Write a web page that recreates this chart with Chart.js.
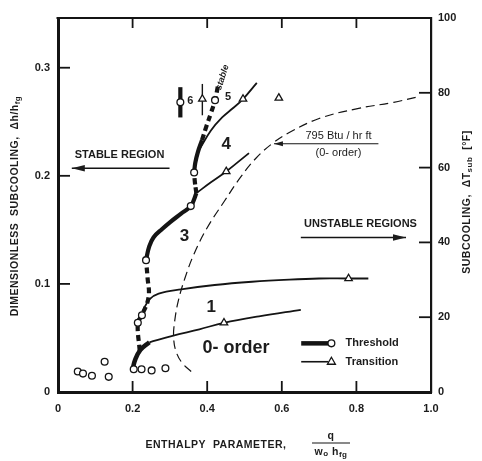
<!DOCTYPE html>
<html><head><meta charset="utf-8">
<script src="https://cdn.jsdelivr.net/npm/chart.js@4/dist/chart.umd.min.js"></script>
<style>html,body{margin:0;padding:0;background:#fff;}</style>
</head><body>
<canvas id="c" width="482" height="461"></canvas>
<script>
// ---------- tick values / labels ----------
const xTickValues = [0, 0.2, 0.4, 0.6, 0.8, 1.0];
const xTickLabels = ['0', '0.2', '0.4', '0.6', '0.8', '1.0'];
const yTickValues = [0, 0.1, 0.2, 0.3];
const yTickLabels = ['0', '0.1', '0.2', '0.3'];
const y2TickValues = [0, 20, 40, 60, 80, 100];
const y2TickLabels = ['0', '20', '40', '60', '80', '100'];

// ---------- data ----------
// threshold points (open circles)
const lowScatterCircles = [[0.053,0.019],[0.067,0.017],[0.091,0.015],[0.125,0.028],[0.136,0.014]];
const thresholdCircles = [[0.203,0.021],[0.224,0.021],[0.251,0.020],[0.288,0.022],
  [0.214,0.064],[0.225,0.071],[0.236,0.122],[0.356,0.172],[0.365,0.203],[0.421,0.270],[0.328,0.268]];
// transition points (open triangles)
const transitionTriangles = [[0.445,0.064],[0.779,0.105],[0.451,0.204],[0.496,0.271],[0.592,0.272],[0.387,0.271]];

// 0-order curve
const zeroOrderThreshold = [[0.200,0.021],[0.207,0.030],[0.221,0.039],[0.245,0.046]];
const zeroOrderTransition = [[0.245,0.046],[0.307,0.052],[0.379,0.058],[0.445,0.064],[0.539,0.070],[0.651,0.076]];
// curve 1 (transition)
const curve1Transition = [[0.225,0.071],[0.233,0.079],[0.246,0.086],[0.27,0.091],[0.33,0.095],[0.42,0.099],
  [0.52,0.102],[0.62,0.104],[0.70,0.105],[0.779,0.105],[0.832,0.105]];
// threshold line, dashed part low
const thresholdDashLow = [[0.219,0.038],[0.214,0.064],[0.225,0.071],[0.243,0.088],[0.240,0.106],[0.236,0.122]];
// curve 3 threshold solid
const curve3Threshold = [[0.236,0.122],[0.244,0.134],[0.256,0.143],[0.28,0.151],[0.30,0.157],[0.33,0.165],[0.356,0.172],[0.371,0.184]];
const thresholdDashMid = [[0.371,0.184],[0.367,0.194],[0.365,0.203]];
const curve4Threshold = [[0.365,0.203],[0.368,0.212],[0.375,0.222],[0.386,0.233]];
const thresholdDashHigh = [[0.386,0.233],[0.398,0.246],[0.410,0.258],[0.421,0.270],[0.426,0.278],[0.430,0.286]];
// transitions 3 and 4
const curve3Transition = [[0.371,0.184],[0.41,0.194],[0.451,0.204],[0.512,0.221]];
const curve4Transition = [[0.380,0.225],[0.41,0.242],[0.44,0.254],[0.467,0.262],[0.496,0.271],[0.533,0.286]];
// 795 Btu/hr ft (0-order) dashed curve
const curve795 = [[0.357,0.019],[0.335,0.026],[0.318,0.036],[0.310,0.050],[0.313,0.066],[0.323,0.085],
  [0.340,0.105],[0.365,0.128],[0.40,0.152],[0.445,0.176],[0.49,0.199],[0.53,0.216],[0.575,0.230],
  [0.62,0.240],[0.70,0.253],[0.80,0.262],[0.90,0.268],[0.965,0.273]];
// runs 6 and 5 (short vertical bars)
const run6Bar = [[0.328,0.254],[0.328,0.282]];
const run5Bar = [[0.387,0.256],[0.387,0.285]];

// ---------- helpers ----------
const INK = '#141414';
const FONT = '"Liberation Sans", Arial, sans-serif';
const pts = a => a.map(([x, y]) => ({x, y}));
function lineDs(data, w, dash) {
  return {data: pts(data), showLine: true, borderColor: INK, borderWidth: w, borderDash: dash || [],
    pointRadius: 0, pointHoverRadius: 0, tension: 0.4, fill: false, order: 2,
    borderCapStyle: 'butt', borderJoinStyle: 'round'};
}
function markerDs(data, style, r) {
  return {data: pts(data), showLine: false, pointStyle: style, pointRadius: r, pointHoverRadius: r,
    pointBackgroundColor: '#fff', pointBorderColor: INK, pointBorderWidth: 1.3, order: 0};
}

function drawRich(ctx, parts, cx, cy) {
  let total = 0;
  parts.forEach(p => { ctx.font = p.font; p.w = ctx.measureText(p.t).width; total += p.w; });
  let x = cx - total / 2;
  ctx.textAlign = 'left'; ctx.textBaseline = 'middle';
  parts.forEach(p => { ctx.font = p.font; ctx.fillText(p.t, x, cy + (p.dy || 0)); x += p.w; });
}
function arrow(ctx, x1, y1, x2, y2, hl, hw) {
  ctx.beginPath(); ctx.moveTo(x1, y1); ctx.lineTo(x2, y2); ctx.stroke();
  const a = Math.atan2(y2 - y1, x2 - x1);
  ctx.beginPath();
  ctx.moveTo(x2, y2);
  ctx.lineTo(x2 - hl * Math.cos(a) + hw * Math.sin(a), y2 - hl * Math.sin(a) - hw * Math.cos(a));
  ctx.lineTo(x2 - hl * Math.cos(a) - hw * Math.sin(a), y2 - hl * Math.sin(a) + hw * Math.cos(a));
  ctx.closePath(); ctx.fill();
}

const decor = {
  id: 'decor',
  afterDraw(chart) {
    const ctx = chart.ctx, xs = chart.scales.x, ys = chart.scales.y, y2s = chart.scales.y2;
    const {left, right, top, bottom} = chart.chartArea;
    const X = v => xs.getPixelForValue(v), Y = v => ys.getPixelForValue(v);
    ctx.save();
    ctx.strokeStyle = INK; ctx.fillStyle = INK;
    // top frame
    ctx.lineWidth = 2;
    ctx.beginPath(); ctx.moveTo(left - 1.5, top); ctx.lineTo(right + 1, top); ctx.stroke();
    // inward ticks
    ctx.lineWidth = 1.8;
    xTickValues.forEach(v => {
      if (v <= 0 || v >= 1) return;
      const px = X(v);
      ctx.beginPath(); ctx.moveTo(px, bottom); ctx.lineTo(px, bottom - 11); ctx.stroke();
      ctx.beginPath(); ctx.moveTo(px, top); ctx.lineTo(px, top + 10); ctx.stroke();
    });
    yTickValues.forEach(v => {
      if (v <= 0) return;
      const py = Y(v);
      ctx.beginPath(); ctx.moveTo(left, py); ctx.lineTo(left + 12, py); ctx.stroke();
    });
    y2TickValues.forEach(v => {
      if (v <= 0 || v >= 100) return;
      const py = y2s.getPixelForValue(v);
      ctx.beginPath(); ctx.moveTo(right, py); ctx.lineTo(right - 12, py); ctx.stroke();
    });

    // region arrows & texts
    ctx.fillStyle = '#1c1c1c';
    ctx.textAlign = 'center'; ctx.textBaseline = 'middle';
    ctx.font = 'bold 11px ' + FONT;
    ctx.fillText('STABLE REGION', X(0.165), Y(0.219));
    ctx.fillText('UNSTABLE REGIONS', X(0.811), Y(0.155));
    ctx.lineWidth = 1.6;
    arrow(ctx, X(0.299), Y(0.207), X(0.037), Y(0.207), 13, 3.2);
    arrow(ctx, X(0.651), Y(0.143), X(0.933), Y(0.143), 13, 3.2);
    // 795 annotation
    ctx.font = '11px ' + FONT;
    ctx.fillText('795 Btu / hr ft', X(0.752), Y(0.237));
    ctx.fillText('(0- order)', X(0.752), Y(0.221));
    ctx.lineWidth = 1.1;
    arrow(ctx, X(0.859), Y(0.2296), X(0.579), Y(0.2296), 9, 2.5);

    // curve labels
    ctx.font = 'bold 17px ' + FONT;
    ctx.fillText('3', X(0.339), Y(0.144));
    ctx.fillText('4', X(0.451), Y(0.229));
    ctx.fillText('1', X(0.411), Y(0.078));
    ctx.font = 'bold 18px ' + FONT;
    ctx.fillText('0- order', X(0.477), Y(0.041));
    ctx.font = 'bold 11px ' + FONT;
    ctx.fillText('6', X(0.355), Y(0.269));
    ctx.fillText('5', X(0.456), Y(0.273));
    // "stable" rotated
    ctx.save();
    ctx.translate(X(0.441), Y(0.291));
    ctx.rotate(-72 * Math.PI / 180);
    ctx.font = 'italic bold 9px ' + FONT;
    ctx.fillText('stable', 0, 0);
    ctx.restore();

    // legend
    const lx1 = X(0.652), lx2 = X(0.733), ly1 = Y(0.045), ly2 = Y(0.028);
    ctx.lineWidth = 4.5;
    ctx.beginPath(); ctx.moveTo(lx1, ly1); ctx.lineTo(lx2 - 3, ly1); ctx.stroke();
    ctx.lineWidth = 1.3; ctx.fillStyle = '#fff';
    ctx.beginPath(); ctx.arc(lx2, ly1, 3.4, 0, Math.PI * 2); ctx.fill(); ctx.stroke();
    ctx.lineWidth = 1.6;
    ctx.beginPath(); ctx.moveTo(lx1, ly2); ctx.lineTo(lx2 - 3, ly2); ctx.stroke();
    ctx.lineWidth = 1.3;
    ctx.beginPath(); ctx.moveTo(lx2, ly2 - 4.5); ctx.lineTo(lx2 + 4, ly2 + 2.5); ctx.lineTo(lx2 - 4, ly2 + 2.5); ctx.closePath(); ctx.fill(); ctx.stroke();
    ctx.fillStyle = '#1c1c1c';
    ctx.textAlign = 'left';
    ctx.font = 'bold 11px ' + FONT;
    ctx.fillText('Threshold', X(0.771), ly1);
    ctx.fillText('Transition', X(0.771), ly2);

    // axis titles
    const tf = 'bold 10.5px ' + FONT, sf = 'bold 8px ' + FONT;
    ctx.letterSpacing = '0.5px';
    ctx.save();
    ctx.translate(15, 206); ctx.rotate(-Math.PI / 2);
    drawRich(ctx, [{t: 'DIMENSIONLESS  SUBCOOLING,  Δh/h', font: tf}, {t: 'fg', font: sf, dy: 3}], 0, 0);
    ctx.restore();
    ctx.save();
    ctx.translate(467, 202); ctx.rotate(-Math.PI / 2);
    drawRich(ctx, [{t: 'SUBCOOLING,  ΔT', font: tf}, {t: 'sub', font: sf, dy: 3}, {t: '  [°F]', font: tf}], 0, 0);
    ctx.restore();
    drawRich(ctx, [{t: 'ENTHALPY  PARAMETER,', font: tf}], 216, 445);
    // fraction
    drawRich(ctx, [{t: 'q', font: tf}], 331, 436);
    ctx.lineWidth = 1.2;
    ctx.beginPath(); ctx.moveTo(312, 443); ctx.lineTo(350, 443); ctx.stroke();
    drawRich(ctx, [{t: 'w', font: tf}, {t: 'o', font: sf, dy: 2}, {t: ' h', font: tf}, {t: 'fg', font: sf, dy: 3}], 331, 452);
    ctx.letterSpacing = '0px';
    ctx.restore();
  }
};

const tickFont = {family: FONT, size: 11, weight: 'bold'};
new Chart(document.getElementById('c'), {
  type: 'scatter',
  data: {
    datasets: [
      markerDs(lowScatterCircles, 'circle', 3.4),
      markerDs(thresholdCircles, 'circle', 3.4),
      markerDs(transitionTriangles, 'triangle', 4.3),
      lineDs(zeroOrderThreshold, 4.5),
      lineDs(zeroOrderTransition, 1.8),
      lineDs(curve1Transition, 1.8),
      lineDs(thresholdDashLow, 4.2, [6, 4]),
      lineDs(curve3Threshold, 4.2),
      lineDs(thresholdDashMid, 4.2, [6, 3]),
      lineDs(curve4Threshold, 4.2),
      lineDs(thresholdDashHigh, 4.2, [6, 4]),
      lineDs(curve3Transition, 1.8),
      lineDs(curve4Transition, 1.8),
      lineDs(curve795, 1.2, [9, 5]),
      lineDs(run6Bar, 4.2),
      lineDs(run5Bar, 1.4)
    ]
  },
  options: {
    responsive: false, animation: false, events: [],
    layout: {padding: {top: 18, left: 0, right: 0, bottom: 0}},
    plugins: {legend: {display: false}, tooltip: {enabled: false}},
    scales: {
      x: {type: 'linear', position: 'bottom', min: 0, max: 1,
        afterBuildTicks: s => { s.ticks = xTickValues.map(v => ({value: v})); },
        afterFit: s => { s.height = 69; },
        ticks: {font: tickFont, color: '#1c1c1c', padding: 10, maxRotation: 0, autoSkip: false,
          callback: v => { const i = xTickValues.indexOf(v); return i >= 0 ? xTickLabels[i] : ''; }},
        grid: {display: false, drawTicks: false},
        border: {display: true, width: 3, color: INK}},
      y: {type: 'linear', position: 'left', min: 0, max: 0.346,
        afterBuildTicks: s => { s.ticks = yTickValues.map(v => ({value: v})); },
        afterFit: s => { s.width = 58; },
        ticks: {font: tickFont, color: '#1c1c1c', padding: 8, autoSkip: false,
          callback: v => { const i = yTickValues.indexOf(v); return i >= 0 ? yTickLabels[i] : ''; }},
        grid: {display: false, drawTicks: false},
        border: {display: true, width: 3, color: INK}},
      y2: {type: 'linear', axis: 'y', position: 'right', min: 0, max: 100,
        afterBuildTicks: s => { s.ticks = y2TickValues.map(v => ({value: v})); },
        afterFit: s => { s.width = 51; },
        ticks: {font: tickFont, color: '#1c1c1c', padding: 7, autoSkip: false,
          callback: v => { const i = y2TickValues.indexOf(v); return i >= 0 ? y2TickLabels[i] : ''; }},
        grid: {display: false, drawTicks: false},
        border: {display: true, width: 2.2, color: INK}}
    }
  },
  plugins: [decor]
});
</script>
</body></html>
